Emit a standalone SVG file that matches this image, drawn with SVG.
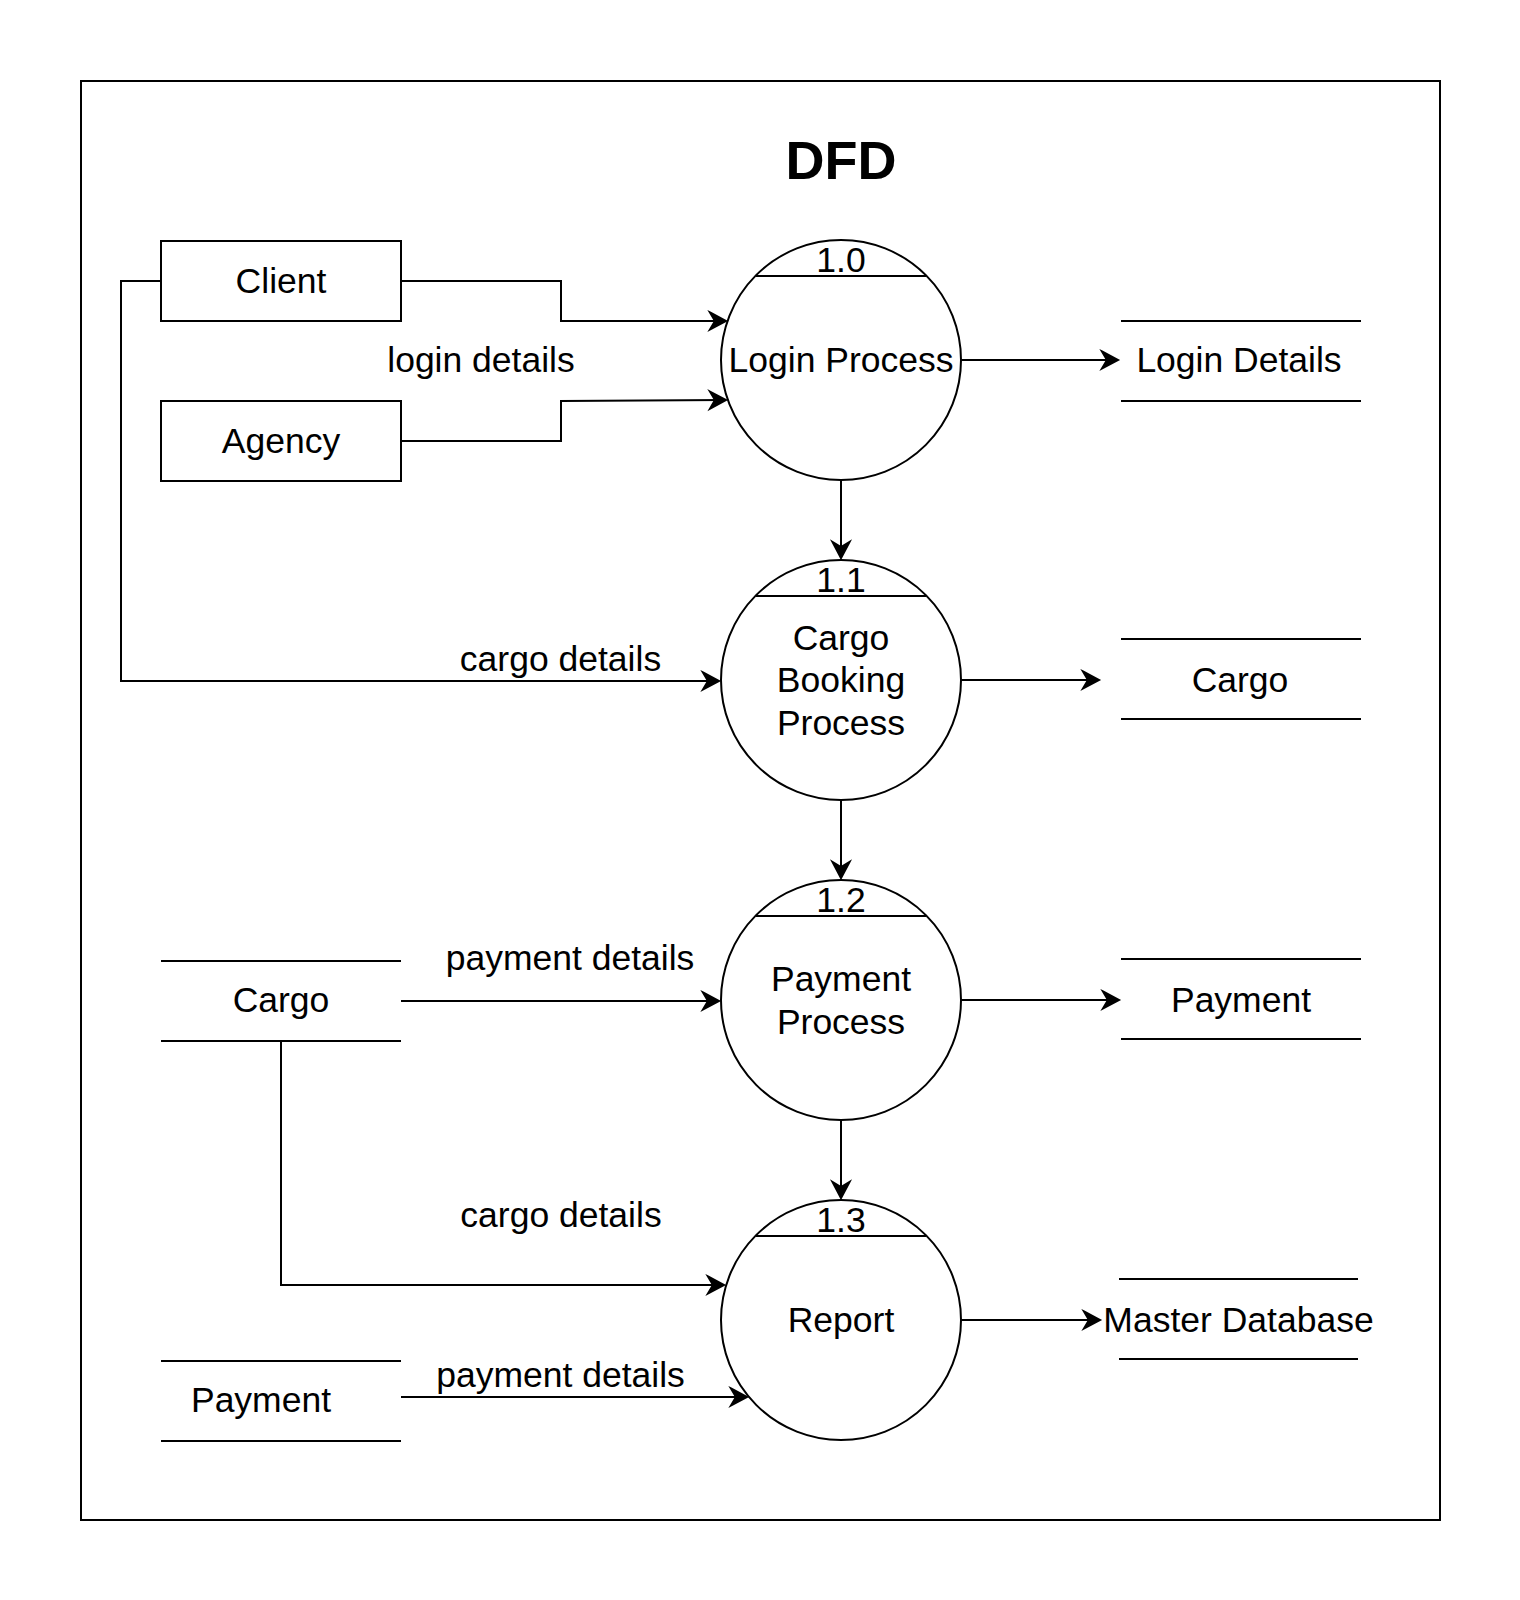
<svg xmlns="http://www.w3.org/2000/svg" width="1520" height="1600" viewBox="0 0 1520 1600">
<defs>
<style>
.s{fill:none;stroke:#000;stroke-width:2}
.b{fill:#fff;stroke:#000;stroke-width:2}
.t{font-family:"Liberation Sans",Arial,sans-serif;font-size:35.5px;fill:#000;text-anchor:middle}
.ttl{font-family:"Liberation Sans",Arial,sans-serif;font-size:54px;font-weight:bold;fill:#000;text-anchor:middle}
.c{fill:none;stroke:#000;stroke-width:2}
</style>
<marker id="arr" markerUnits="userSpaceOnUse" markerWidth="22" markerHeight="22" viewBox="0 0 22 22" refX="15.5" refY="11" orient="auto" overflow="visible">
<path d="M1.5,2.5 L17.5,11 L1.5,19.5 L6.5,11 Z" fill="#000" stroke="#000" stroke-width="2" stroke-linejoin="miter"/>
</marker>
</defs>
<rect x="0" y="0" width="1520" height="1600" fill="#fff"/>
<rect x="81" y="81" width="1359" height="1439" class="s"/>
<text class="ttl" x="841" y="179">DFD</text>

<g id="client">
<rect x="161" y="241" width="240" height="80" class="b"/>
<text class="t" x="281" y="292.5">Client</text>
</g>
<g id="agency">
<rect x="161" y="401" width="240" height="80" class="b"/>
<text class="t" x="281" y="452.5">Agency</text>
</g>

<g id="p10">
<circle cx="841" cy="360" r="120" class="b"/>
<line x1="756" y1="276" x2="926" y2="276" class="s"/>
<text class="t" x="841" y="272">1.0</text>
<text class="t" x="841" y="372">Login Process</text>
</g>
<g id="p11">
<circle cx="841" cy="680" r="120" class="b"/>
<line x1="756" y1="596" x2="926" y2="596" class="s"/>
<text class="t" x="841" y="592">1.1</text>
<text class="t" x="841" y="649.5">Cargo</text>
<text class="t" x="841" y="692">Booking</text>
<text class="t" x="841" y="734.5">Process</text>
</g>
<g id="p12">
<circle cx="841" cy="1000" r="120" class="b"/>
<line x1="756" y1="916" x2="926" y2="916" class="s"/>
<text class="t" x="841" y="912">1.2</text>
<text class="t" x="841" y="991">Payment</text>
<text class="t" x="841" y="1033.5">Process</text>
</g>
<g id="p13">
<circle cx="841" cy="1320" r="120" class="b"/>
<line x1="756" y1="1236" x2="926" y2="1236" class="s"/>
<text class="t" x="841" y="1232">1.3</text>
<text class="t" x="841" y="1332">Report</text>
</g>

<g id="ds-login">
<line x1="1121" y1="321" x2="1361" y2="321" class="s"/>
<line x1="1121" y1="401" x2="1361" y2="401" class="s"/>
<text class="t" x="1239" y="372">Login Details</text>
</g>
<g id="ds-cargo-r">
<line x1="1121" y1="639" x2="1361" y2="639" class="s"/>
<line x1="1121" y1="719" x2="1361" y2="719" class="s"/>
<text class="t" x="1240" y="692">Cargo</text>
</g>
<g id="ds-payment-r">
<line x1="1121" y1="959" x2="1361" y2="959" class="s"/>
<line x1="1121" y1="1039" x2="1361" y2="1039" class="s"/>
<text class="t" x="1241" y="1012">Payment</text>
</g>
<g id="ds-master">
<line x1="1119" y1="1279" x2="1358" y2="1279" class="s"/>
<line x1="1119" y1="1359" x2="1358" y2="1359" class="s"/>
<text class="t" x="1238.5" y="1332">Master Database</text>
</g>
<g id="ds-cargo-l">
<line x1="161" y1="961" x2="401" y2="961" class="s"/>
<line x1="161" y1="1041" x2="401" y2="1041" class="s"/>
<text class="t" x="281" y="1012">Cargo</text>
</g>
<g id="ds-payment-l">
<line x1="161" y1="1361" x2="401" y2="1361" class="s"/>
<line x1="161" y1="1441" x2="401" y2="1441" class="s"/>
<text class="t" x="261" y="1412">Payment</text>
</g>

<g id="connectors">
<path d="M401,281 H561 V321 H724" class="c" marker-end="url(#arr)"/>
<path d="M401,441 H561 V401 L724,400" class="c" marker-end="url(#arr)"/>
<path d="M161,281 H121 V681 H717" class="c" marker-end="url(#arr)"/>
<path d="M961,360 H1116" class="c" marker-end="url(#arr)"/>
<path d="M841,480 V556" class="c" marker-end="url(#arr)"/>
<path d="M961,680 H1097" class="c" marker-end="url(#arr)"/>
<path d="M841,800 V876" class="c" marker-end="url(#arr)"/>
<path d="M401,1001 H717" class="c" marker-end="url(#arr)"/>
<path d="M961,1000 H1117" class="c" marker-end="url(#arr)"/>
<path d="M841,1120 V1196" class="c" marker-end="url(#arr)"/>
<path d="M281,1041 V1285 H722" class="c" marker-end="url(#arr)"/>
<path d="M401,1397 H745" class="c" marker-end="url(#arr)"/>
<path d="M961,1320 H1098" class="c" marker-end="url(#arr)"/>
<text class="t" x="481" y="372">login details</text>
<text class="t" x="560.5" y="671">cargo details</text>
<text class="t" x="570" y="970">payment details</text>
<text class="t" x="561" y="1227">cargo details</text>
<text class="t" x="560.5" y="1387">payment details</text>
</g>
</svg>
